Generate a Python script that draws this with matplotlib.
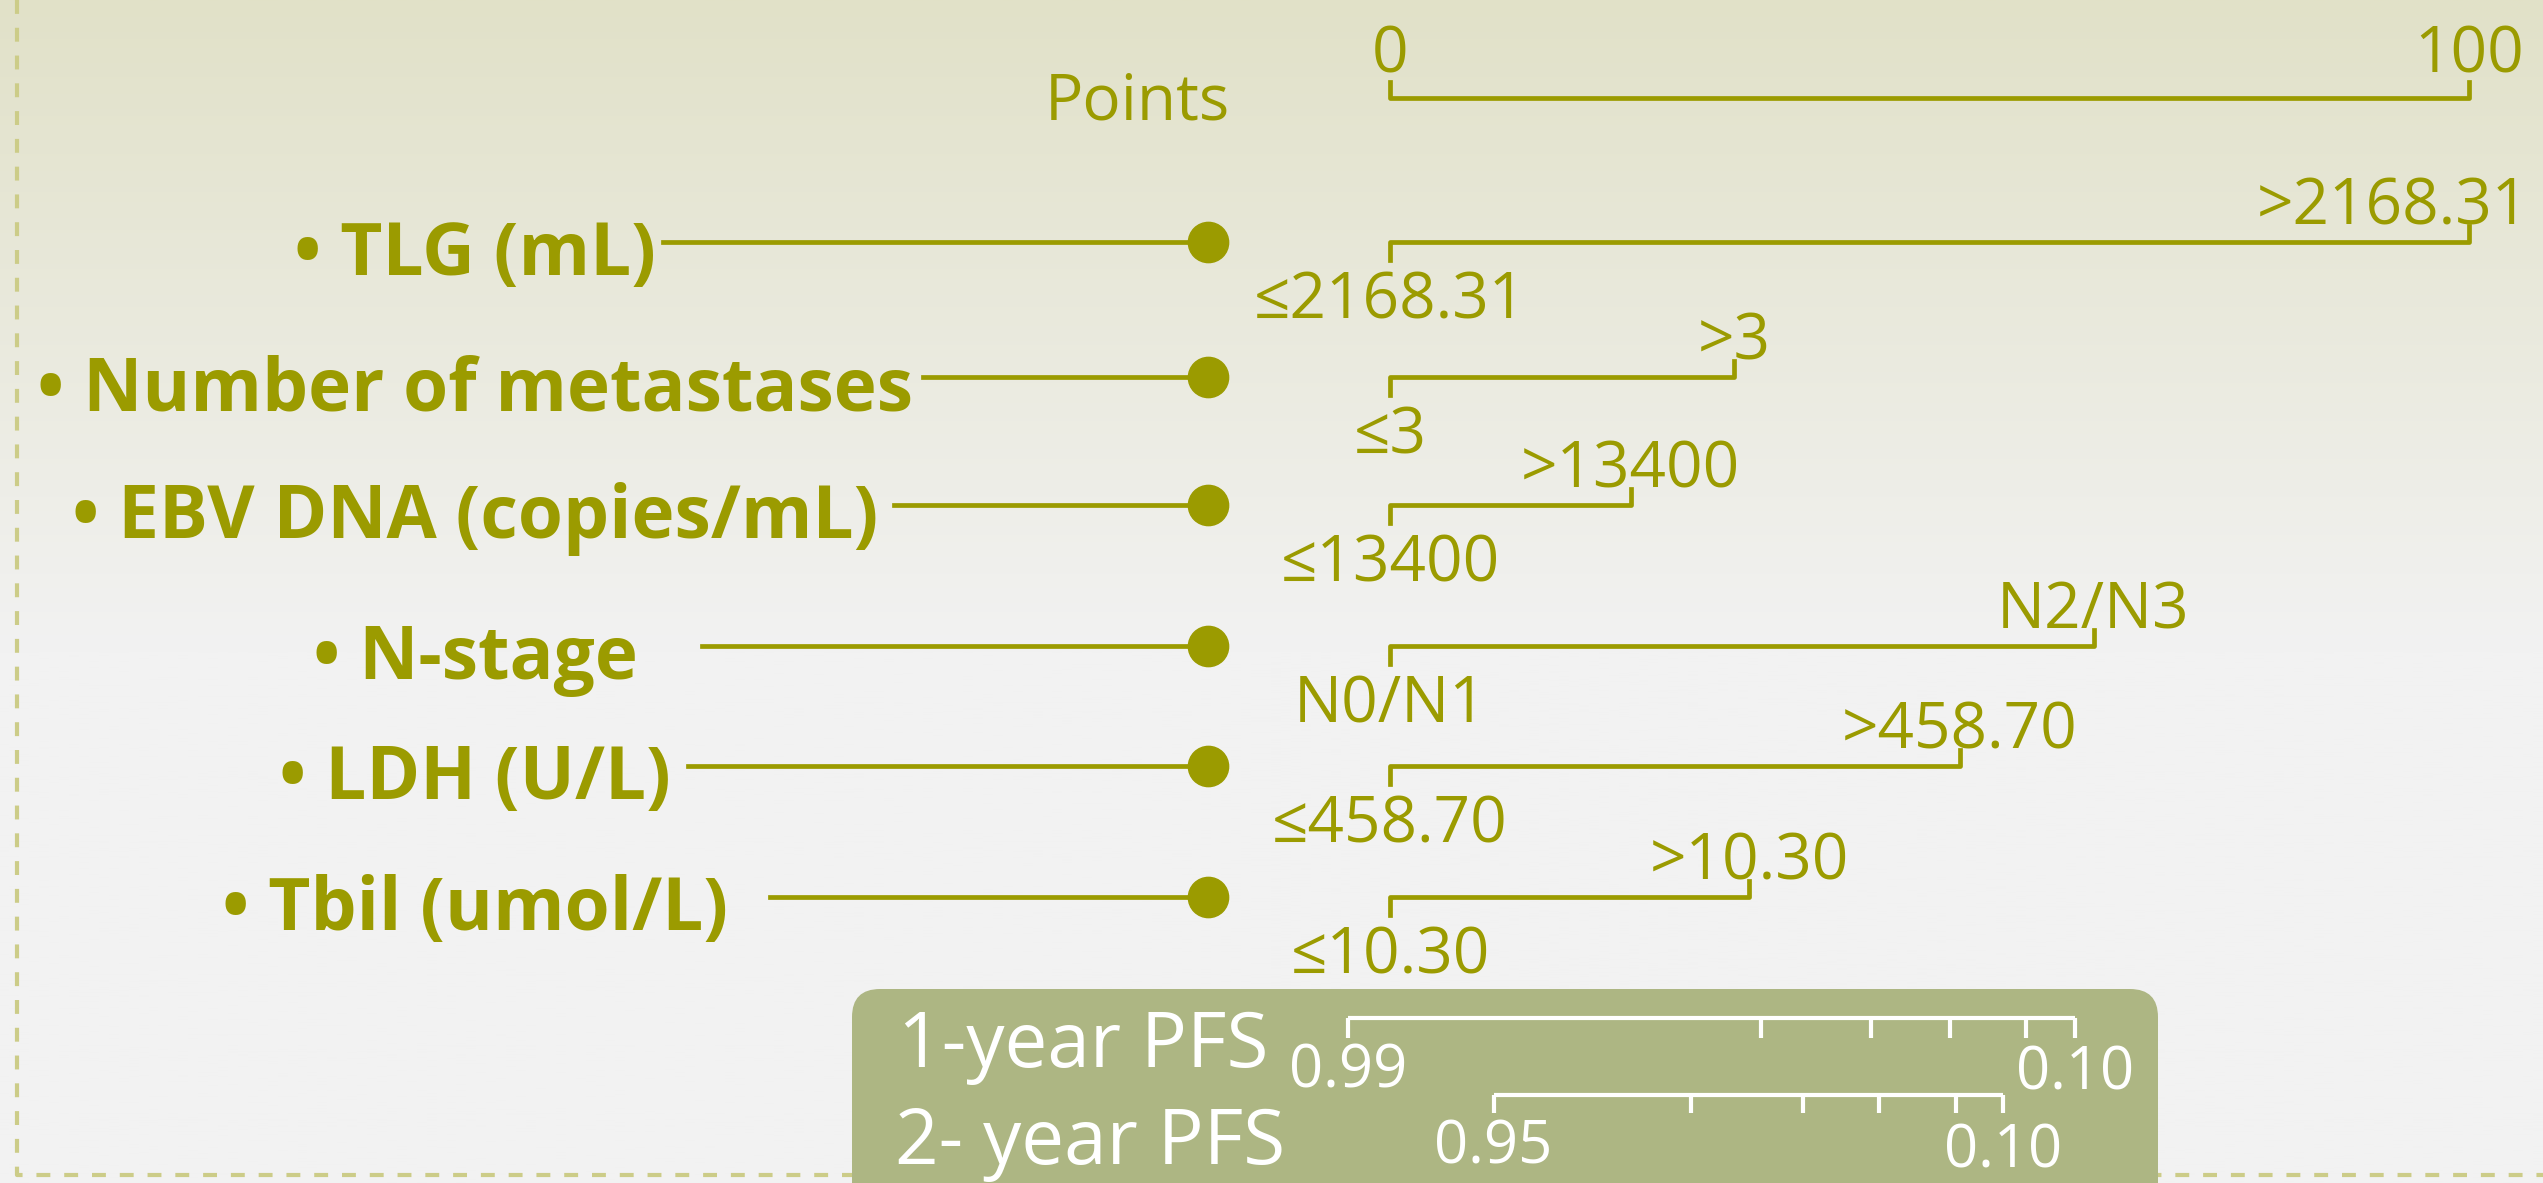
import numpy as np
import matplotlib
matplotlib.use('Agg')
import matplotlib.pyplot as plt
from matplotlib.patches import FancyBboxPatch

plt.rcParams['font.family'] = ['Open Sans', 'DejaVu Sans']
plt.rcParams['lines.scale_dashes'] = False

# nomogram content
variables = ['TLG (mL)', 'Number of metastases', 'EBV DNA (copies/mL)',
             'N-stage', 'LDH (U/L)', 'Tbil (umol/L)']
low_labels = ['≤2168.31', '≤3', '≤13400', 'N0/N1', '≤458.70', '≤10.30']
high_labels = ['>2168.31', '>3', '>13400', 'N2/N3', '>458.70', '>10.30']
max_points = [100, 31.9, 22.3, 65.2, 52.8, 33.3]

points_range = [0, 100]

pfs_names = ['1-year PFS', '2- year PFS']
pfs1_ticks = [-3.9, 34.4, 44.6, 51.9, 58.9, 63.5]
pfs2_ticks = [9.6, 27.9, 38.3, 45.3, 52.5, 56.8]
pfs1_labels = ['0.99', '0.10']
pfs2_labels = ['0.95', '0.10']

# layout (pixels)
W, H = 2543, 1183
x0_px, px_per_pt = 1390, 10.79
row_y = [242, 377, 505, 646, 766, 897]
line_start = [663, 923, 894, 702, 688, 770]
label_cx = 475
dot_x = 1208
points_y = 98

olive = '#9b9b00'
box_col = '#adb683'
dash_col = '#cccc88'


def px(x):
    # pixel column -> points units on the x axis
    return (x - x0_px) / px_per_pt


fig = plt.figure(figsize=(W / 100, H / 100), dpi=100)
ax = fig.add_axes([0, 0, 1, 1])
ax.set_xlim(px(0), px(W))
ax.set_ylim(H, 0)
ax.axis('off')

# background gradient
yy = np.clip(np.linspace(0, H, 400) / 650, 0, 1)[:, None]
top = np.array([225, 225, 200]) / 255
bot = np.array([242, 242, 242]) / 255
grad = (top * (1 - yy) + bot * yy)[:, None, :]
ax.imshow(grad, extent=(px(0), px(W), H, 0), aspect='auto', zorder=0)

# dashed frame
ax.plot([px(17), px(17), px(W)], [0, 1175, 1175], color=dash_col, lw=3,
        linestyle=(0, (10, 10)), zorder=1)

lw = 3.4
# points axis
ax.plot([points_range[0], points_range[0], points_range[1], points_range[1]],
        [points_y - 16, points_y, points_y, points_y - 16], color=olive, lw=lw, zorder=2)
for v in points_range:
    ax.text(v, 72, str(v), color=olive, fontsize=46, ha='center', va='baseline')
ax.text(px(1230), 119, 'Points', color=olive, fontsize=46, ha='right', va='baseline')

fig.canvas.draw()
renderer = fig.canvas.get_renderer()

for i, name in enumerate(variables):
    y = row_y[i]
    ax.text(px(label_cx), y + 33, '• ' + name, color=olive, fontsize=52.5,
            fontweight='bold', ha='center', va='baseline')
    ax.plot([px(line_start[i]), px(dot_x)], [y, y], color=olive, lw=lw, zorder=2)
    ax.plot(px(dot_x), y, 'o', color=olive, ms=29, zorder=3)
    # bracket
    m = max_points[i]
    ax.plot([0, 0, m, m], [y + 18, y, y, y - 16], color=olive, lw=lw, zorder=2)
    t = ax.text(m, y - 18, high_labels[i], color=olive, fontsize=46,
                ha='center', va='baseline')
    bb = t.get_window_extent(renderer)
    if bb.x1 > W - 12:
        t.set_ha('right')
        t.set_x(px(W - 14))
    ax.text(0, y + 76, low_labels[i], color=olive, fontsize=46,
            ha='center', va='baseline')

# PFS box
box = FancyBboxPatch((px(852), 989), px(2158) - px(852), 300,
                     boxstyle='round,pad=0,rounding_size=2.6',
                     mutation_aspect=px_per_pt, fc=box_col, ec='none', zorder=3)
ax.add_patch(box)
ax.text(px(898), 1067, pfs_names[0], color='white', fontsize=55,
        ha='left', va='baseline', zorder=4)
ax.text(px(895), 1164, pfs_names[1], color='white', fontsize=55,
        ha='left', va='baseline', zorder=4)

for ticks, labels, ly, tlen in [(pfs1_ticks, pfs1_labels, 1018, 20),
                                (pfs2_ticks, pfs2_labels, 1095, 18)]:
    ax.hlines(ly, ticks[0], ticks[-1], color='white', lw=3, zorder=4)
    ax.vlines(ticks, ly, ly + tlen, color='white', lw=3, zorder=4)
    ax.text(ticks[0], ly + 69, labels[0], color='white', fontsize=43,
            ha='center', va='baseline', zorder=4)
    ax.text(ticks[-1], ly + 72, labels[1], color='white', fontsize=43,
            ha='center', va='baseline', zorder=4)

fig.savefig('out.png', dpi=100)
